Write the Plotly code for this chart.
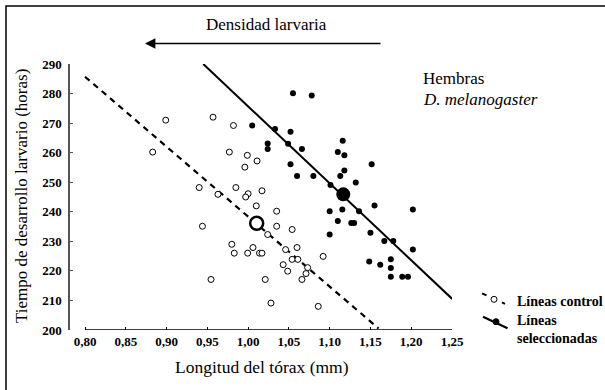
import plotly.graph_objects as go

# ---------------- data ----------------
ctrl_x = [0.899, 0.957, 0.982, 0.883, 0.977, 0.999, 1.011, 0.996, 0.940, 0.985,
          0.963, 1.000, 0.997, 1.017, 1.010, 1.035, 0.944, 1.035, 1.054, 1.024,
          0.980, 0.983, 0.9995, 1.006, 1.014, 1.017, 1.046, 1.060, 1.054, 1.061,
          1.092, 1.043, 1.0485, 1.073, 1.071, 1.066, 1.021, 0.9545, 1.028, 1.086]
ctrl_y = [271.0, 272.0, 269.2, 260.2, 260.2, 259.1, 257.2, 255.1, 248.2, 248.2,
          245.9, 246.1, 245.0, 247.1, 242.0, 240.2, 235.1, 235.1, 234.0, 232.3,
          229.0, 226.0, 226.0, 227.9, 226.0, 226.0, 227.2, 227.9, 223.9, 223.9,
          224.9, 222.1, 219.9, 221.1, 219.1, 217.1, 217.1, 217.1, 209.1, 208.0]

sel_x = [1.005, 1.055, 1.078, 1.033, 1.052, 1.024, 1.024, 1.049, 1.066, 1.052,
         1.060, 1.080, 1.116, 1.110, 1.118, 1.118, 1.113, 1.1515, 1.132, 1.101,
         1.100, 1.1155, 1.136, 1.155, 1.202, 1.110, 1.1265, 1.130, 1.100, 1.150,
         1.167, 1.178, 1.202, 1.1485, 1.162, 1.175, 1.175, 1.175, 1.189, 1.196]
sel_y = [269.2, 280.1, 279.3, 268.0, 267.1, 263.1, 261.2, 263.0, 261.2, 256.1,
         252.1, 252.1, 264.0, 260.2, 259.1, 254.0, 252.1, 256.1, 249.9, 249.1,
         240.2, 240.8, 240.2, 242.1, 240.8, 236.9, 236.2, 236.2, 232.3, 232.9,
         230.1, 230.1, 227.2, 223.2, 222.1, 223.9, 221.0, 218.0, 218.0, 218.0]

ctrl_mean_x = [1.0105]
ctrl_mean_y = [236.1]
sel_mean_x = [1.1167]
sel_mean_y = [245.9]

ctrl_fit_x = [0.80, 1.16]
ctrl_fit_y = [285.7, 200.5]
sel_fit_x = [0.945, 1.2503]
sel_fit_y = [290.0, 210.5]

x_ticks = [0.80, 0.85, 0.90, 0.95, 1.00, 1.05, 1.10, 1.15, 1.20, 1.25]
x_tick_text = ["0,80", "0,85", "0,90", "0,95", "1,00", "1,05", "1,10", "1,15", "1,20", "1,25"]
y_ticks = [200, 210, 220, 230, 240, 250, 260, 270, 280, 290]

# ---------------- layout geometry ----------------
W, H = 605, 390
L, R, T, B = 70, 153, 64, 60
PW, PH = W - L - R, H - T - B


def px(xp):
    return (xp - L) / PW


def py(yp):
    return (H - B - yp) / PH


FONT = "Liberation Serif"

fig = go.Figure()

fig.add_trace(go.Scatter(x=ctrl_fit_x, y=ctrl_fit_y, mode="lines",
                         line=dict(color="black", width=2.2, dash="6px,5px"),
                         hoverinfo="skip"))
fig.add_trace(go.Scatter(x=sel_fit_x, y=sel_fit_y, mode="lines",
                         line=dict(color="black", width=2), hoverinfo="skip"))
fig.add_trace(go.Scatter(x=ctrl_x, y=ctrl_y, mode="markers",
                         marker=dict(symbol="circle", size=6, color="white",
                                     line=dict(color="black", width=1))))
fig.add_trace(go.Scatter(x=sel_x, y=sel_y, mode="markers",
                         marker=dict(symbol="circle", size=6, color="black",
                                     line=dict(color="black", width=0))))
fig.add_trace(go.Scatter(x=ctrl_mean_x, y=ctrl_mean_y, mode="markers",
                         marker=dict(symbol="circle", size=13, color="white",
                                     line=dict(color="black", width=2.5))))
fig.add_trace(go.Scatter(x=sel_mean_x, y=sel_mean_y, mode="markers",
                         marker=dict(symbol="circle", size=14, color="black",
                                     line=dict(color="black", width=0))))

shapes = []
# x axis line starting at 0,80
shapes.append(dict(type="line", xref="x", yref="y", x0=0.80, x1=1.25, y0=200, y1=200,
                   line=dict(color="black", width=1.5), layer="above"))
# outer frame (only left and top visible)
shapes.append(dict(type="rect", xref="paper", yref="paper",
                   x0=px(6), x1=px(W + 5), y0=py(6), y1=py(H + 5),
                   line=dict(color="black", width=1.5)))
# legend samples
shapes.append(dict(type="line", xref="paper", yref="paper",
                   x0=px(482), y0=py(293.3), x1=px(505), y1=py(303.8),
                   line=dict(color="black", width=2, dash="5px,6px")))
shapes.append(dict(type="circle", xref="paper", yref="paper", xsizemode="pixel",
                   ysizemode="pixel", xanchor=px(494), yanchor=py(299.3),
                   x0=-3, x1=3, y0=-3, y1=3, fillcolor="white",
                   line=dict(color="black", width=1)))
shapes.append(dict(type="line", xref="paper", yref="paper",
                   x0=px(483), y0=py(316.7), x1=px(507.5), y1=py(328.3),
                   line=dict(color="black", width=2.2)))
shapes.append(dict(type="circle", xref="paper", yref="paper", xsizemode="pixel",
                   ysizemode="pixel", xanchor=px(496), yanchor=py(321.7),
                   x0=-3, x1=3, y0=-3, y1=3, fillcolor="black",
                   line=dict(color="black", width=1)))

annotations = [
    dict(xref="paper", yref="paper", x=px(266.5), y=py(24), text="Densidad larvaria",
         showarrow=False, font=dict(family=FONT, size=17, color="black"),
         xanchor="center", yanchor="middle"),
    dict(xref="paper", yref="paper", x=px(145), y=py(43.5), text="", showarrow=True,
         axref="pixel", ayref="pixel", ax=237, ay=0, arrowhead=2, arrowsize=1.3,
         arrowwidth=1.6, arrowcolor="black"),
    dict(xref="paper", yref="paper", x=px(421), y=py(79), text="Hembras",
         showarrow=False, font=dict(family=FONT, size=17, color="black"),
         xanchor="left", yanchor="middle"),
    dict(xref="paper", yref="paper", x=px(421), y=py(99), text="<i>D. melanogaster</i>",
         showarrow=False, font=dict(family=FONT, size=17, color="black"),
         xanchor="left", yanchor="middle"),
    dict(xref="paper", yref="paper", x=px(515), y=py(301.5), text="<b>Líneas control</b>",
         showarrow=False, font=dict(family=FONT, size=14, color="black"),
         xanchor="left", yanchor="middle"),
    dict(xref="paper", yref="paper", x=px(515), y=py(320), text="<b>Líneas</b>",
         showarrow=False, font=dict(family=FONT, size=14, color="black"),
         xanchor="left", yanchor="middle"),
    dict(xref="paper", yref="paper", x=px(515), y=py(338), text="<b>seleccionadas</b>",
         showarrow=False, font=dict(family=FONT, size=14, color="black"),
         xanchor="left", yanchor="middle"),
    dict(xref="paper", yref="paper", x=px(262), y=py(367), text="Longitud del tórax (mm)",
         showarrow=False, font=dict(family=FONT, size=17.5, color="black"),
         xanchor="center", yanchor="middle"),
    dict(xref="paper", yref="paper", x=px(21), y=py(196),
         text="Tiempo de desarrollo larvario (horas)", textangle=-90,
         showarrow=False, font=dict(family=FONT, size=17, color="black"),
         xanchor="center", yanchor="middle"),
]

fig.update_layout(
    width=W, height=H,
    margin=dict(l=L, r=R, t=T, b=B),
    paper_bgcolor="white", plot_bgcolor="white",
    showlegend=False,
    shapes=shapes,
    annotations=annotations,
    xaxis=dict(range=[0.80 - 15 / 815.6, 1.25], tickvals=x_ticks, ticktext=x_tick_text,
               ticks="inside", ticklen=3, tickcolor="black", tickwidth=1,
               showgrid=False, zeroline=False, showline=False,
               tickfont=dict(family=FONT, size=13, color="black", weight="bold"),
               ticklabelstandoff=2),
    yaxis=dict(range=[200, 290], tickvals=y_ticks,
               ticks="inside", ticklen=3, tickcolor="#555555", tickwidth=1,
               showgrid=False, zeroline=False, showline=True, linecolor="#555555",
               linewidth=1.5,
               tickfont=dict(family=FONT, size=13, color="black", weight="bold"),
               ticklabelstandoff=4),
)

fig.write_html("out.html")
